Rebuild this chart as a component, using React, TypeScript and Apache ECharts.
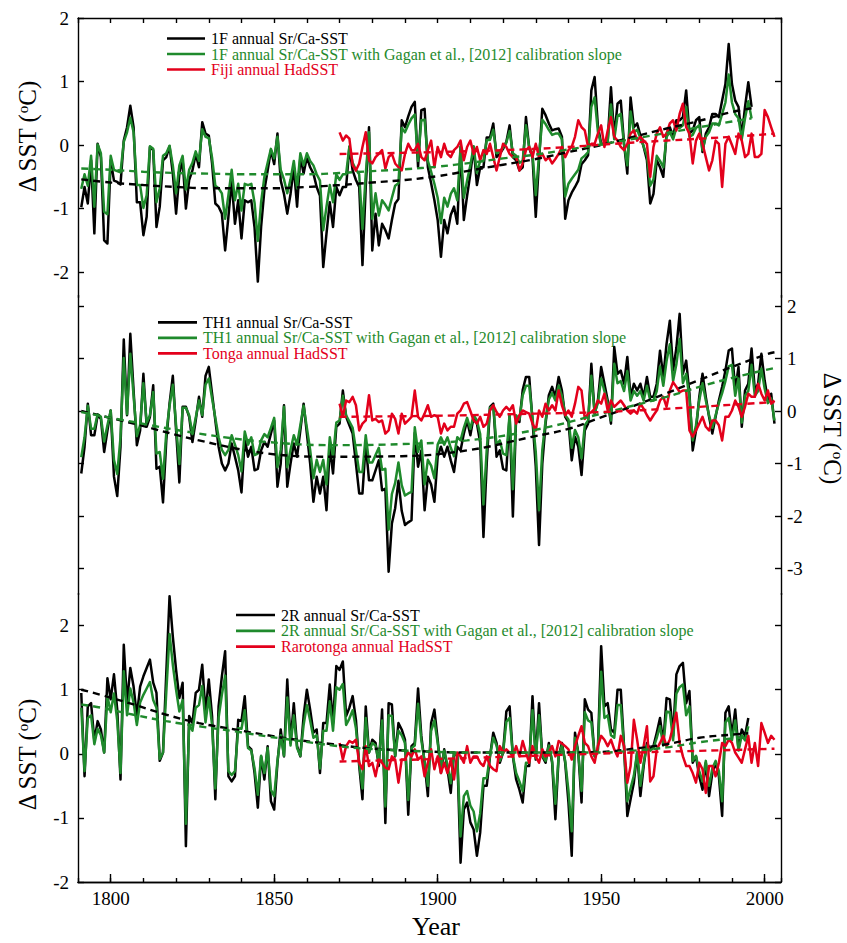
import React, { useEffect, useRef } from 'react';
import * as echarts from 'echarts';

const FONT = 'Liberation Serif';
const C_BLACK = '#000000';
const C_GREEN = '#1f8a2c';
const C_RED = '#e3001b';

// ---------- Panel 1 : 1F coral (Fiji) ----------
const f1Start = 1791;
const f1SrCa = [
  -0.98, -0.66, -0.92, -0.24, -1.39, 0.02, -0.19, -1.50, -1.55, -0.24,
  -0.56, -0.58, -0.62, 0.07, 0.28, 0.62, 0.28, -0.90, -0.90, -1.42,
  -1.13, -0.03, -0.08, -1.29, -0.97, -0.24, -0.19, -0.02, -0.45, -1.08,
  -0.45, -0.24, -1.00, -0.55, -0.40, -0.14, -0.35, 0.36, 0.18, 0.15,
  -0.29, -0.92, -0.97, -1.08, -1.66, -1.13, -0.56, -1.24, -0.87, -1.47,
  -0.87, -0.90, -0.87, -1.30, -2.15, -1.29, -0.71, -0.40, -0.08, -0.30,
  0.18, -0.56, -0.77, -1.08, -0.77, -0.35, -0.97, -0.19, -0.45, -0.19,
  -0.35, -0.45, -0.66, -0.80, -1.92, -1.39, -0.90, -1.29, -0.66, -0.79,
  -0.66, -0.66, -0.03, -0.40, -0.55, -0.66, -1.89, -0.66, 0.28, -1.66,
  -1.08, -1.58, -1.24, -1.34, -1.47, -1.18, -0.92, -0.85, 0.39, 0.28,
  0.45, 0.60, 0.68, -0.35, 0.55, 0.57, -0.35, -0.60, -0.87, -1.18,
  -1.76, -1.18, -1.39, -1.10, -0.97, -1.24, -0.03, -1.18, -0.80, -0.45,
  -0.03, -0.63, -0.35, -0.35, 0.12, 0.12, 0.34, -0.19, -0.14, -0.06,
  0.05, 0.31, -0.19, -0.24, -0.40, -0.35, 0.44, -0.05, -0.19, -1.13,
  -0.24, 0.57, 0.47, 0.34, 0.23, 0.25, 0.26, 0.13, -1.16, -0.87,
  -0.75, -0.66, -0.56, -0.30, -0.24, -0.16, 0.86, 1.07, 0.30, 0.02,
  0.02, 0.07, 0.91, 0.13, 0.65, 0.70, 0.02, -0.45, 0.75, 0.28,
  0.34, 0.15, -0.03, -0.24, -0.92, -0.77, -0.24, -0.35, -0.50, 0.18,
  0.28, 0.13, 0.39, 0.39, 0.44, 0.86, 0.18, 0.23, 0.39, 0.44,
  -0.11, 0.18, 0.28, 0.49, 0.49, 0.44, 0.70, 0.96, 1.59, 0.96,
  0.70, 0.60, 0.13, 0.60, 0.99, 0.60,
];
const f1Gagan = [
  -0.69, -0.46, -0.64, -0.17, -0.97, 0.01, -0.13, -1.05, -1.09, -0.17,
  -0.39, -0.41, -0.43, 0.05, 0.20, 0.43, 0.20, -0.63, -0.63, -0.99,
  -0.79, -0.02, -0.06, -0.90, -0.68, -0.17, -0.13, -0.01, -0.32, -0.76,
  -0.32, -0.17, -0.70, -0.39, -0.28, -0.10, -0.25, 0.25, 0.13, 0.11,
  -0.20, -0.64, -0.68, -0.76, -1.16, -0.79, -0.39, -0.87, -0.61, -1.03,
  -0.61, -0.63, -0.61, -0.91, -1.51, -0.90, -0.50, -0.28, -0.06, -0.21,
  0.13, -0.39, -0.54, -0.76, -0.54, -0.25, -0.68, -0.13, -0.32, -0.13,
  -0.25, -0.32, -0.46, -0.56, -1.34, -0.97, -0.63, -0.90, -0.46, -0.55,
  -0.46, -0.46, -0.02, -0.28, -0.39, -0.46, -1.32, -0.46, 0.20, -1.16,
  -0.76, -1.11, -0.87, -0.94, -1.03, -0.83, -0.64, -0.60, 0.27, 0.20,
  0.32, 0.42, 0.48, -0.25, 0.39, 0.40, -0.25, -0.42, -0.61, -0.83,
  -1.23, -0.83, -0.97, -0.77, -0.68, -0.87, -0.02, -0.83, -0.56, -0.32,
  -0.02, -0.44, -0.25, -0.25, 0.08, 0.08, 0.24, -0.13, -0.10, -0.04,
  0.04, 0.22, -0.13, -0.17, -0.28, -0.25, 0.31, -0.04, -0.13, -0.79,
  -0.17, 0.40, 0.33, 0.24, 0.16, 0.18, 0.18, 0.09, -0.81, -0.61,
  -0.53, -0.46, -0.39, -0.21, -0.17, -0.11, 0.60, 0.75, 0.21, 0.01,
  0.01, 0.05, 0.64, 0.09, 0.46, 0.49, 0.01, -0.32, 0.53, 0.20,
  0.24, 0.11, -0.02, -0.17, -0.64, -0.54, -0.17, -0.25, -0.35, 0.13,
  0.20, 0.09, 0.27, 0.27, 0.31, 0.60, 0.13, 0.16, 0.27, 0.31,
  -0.08, 0.13, 0.20, 0.34, 0.34, 0.31, 0.49, 0.67, 1.11, 0.67,
  0.49, 0.42, 0.09, 0.42, 0.69, 0.42,
];
const hadStart = 1870;
const fijiHad = [
  0.20, 0.07, 0.15, 0.10, -0.32, -0.40, -0.29, -0.03, 0.20, -0.24,
  -0.29, -0.19, -0.14, -0.08, -0.37, -0.19, -0.14, -0.29, -0.35, -0.40,
  -0.14, 0.02, -0.08, -0.08, 0.02, -0.19, -0.24, -0.08, 0.07, -0.35,
  -0.03, -0.19, 0.02, -0.14, -0.19, -0.08, -0.03, 0.07, -0.24, -0.03,
  0.07, -0.14, -0.03, -0.24, -0.08, -0.14, 0.02, -0.19, -0.40, -0.19,
  0.02, -0.03, -0.14, -0.19, -0.19, -0.40, -0.29, -0.08, -0.03, -0.19,
  0.02, -0.19, -0.14, -0.24, -0.19, -0.29, -0.22, -0.14, -0.03, -0.19,
  -0.08, -0.03, 0.13, 0.39, 0.28, 0.23, -0.03, 0.02, 0.02, 0.18,
  0.31, -0.03, 0.23, 0.44, 0.13, 0.07, -0.03, -0.08, 0.02, 0.18,
  0.23, 0.07, 0.13, 0.07, 0.02, -0.50, -0.03, 0.18, 0.28, 0.13,
  0.18, 0.34, 0.39, 0.23, 0.49, 0.65, 0.28, 0.18, -0.29, 0.07,
  0.18, 0.02, -0.19, -0.40, -0.24, 0.07, 0.02, -0.66, 0.02, 0.13,
  0.00, -0.14, 0.18, 0.07, -0.19, -0.14, 0.18, -0.19, -0.19, -0.14,
  0.55, 0.44, 0.28, 0.13,
];
const f1TrendYears = [1791, 1800, 1810, 1820, 1830, 1840, 1850, 1860, 1870, 1880, 1890, 1900, 1910, 1920, 1930, 1940, 1950, 1960, 1970, 1980, 1990, 1996];
const f1TrendSrCa = [-0.54, -0.59, -0.63, -0.66, -0.68, -0.68, -0.68, -0.66, -0.63, -0.59, -0.55, -0.49, -0.40, -0.31, -0.22, -0.11, 0.00, 0.13, 0.26, 0.38, 0.52, 0.58];
const f1TrendGagan = [-0.37, -0.39, -0.42, -0.44, -0.45, -0.46, -0.46, -0.46, -0.44, -0.41, -0.38, -0.34, -0.28, -0.21, -0.15, -0.07, 0.01, 0.10, 0.19, 0.28, 0.37, 0.42];
const hadTrendYears = [1870, 1900, 1930, 1960, 1990, 2003];
const fijiTrend = [-0.14, -0.11, -0.06, 0.04, 0.13, 0.18];

// ---------- Panel 2 : TH1 coral (Tonga) ----------
const th1Start = 1791;
const th1SrCa = [
  -1.19, -0.68, 0.14, -0.46, -0.46, -0.08, -0.15, -0.78, -0.37, 0.01,
  -1.25, -1.62, -0.68, 1.36, -0.08, 1.47, 0.39, -0.65, -0.37, 0.71,
  -0.30, -0.11, 0.49, -1.10, -1.06, -1.74, -0.56, 0.14, 0.67, -0.37,
  -1.36, 0.08, 0.08, -0.11, -0.59, -0.18, 0.27, -0.11, 0.67, 0.84,
  0.33, -0.18, -0.68, -1.00, -1.13, -1.00, -0.62, -0.87, -1.13, -1.55,
  -0.53, -0.87, -0.68, -1.13, -1.10, -0.75, -0.59, -0.68, -0.43, -0.18,
  -1.44, -1.00, 0.11, -1.44, -1.00, -0.62, -0.87, -0.37, 0.14, -0.43,
  -1.00, -1.73, -1.25, -1.57, -1.25, -1.89, -0.68, -1.19, -0.30, -0.24,
  0.39, -0.11, -0.27, -0.43, -1.00, -1.57, -1.57, -0.62, -1.32, -1.32,
  -1.13, -0.94, -1.51, -1.48, -3.06, -2.14, -1.85, -1.33, -1.90, -2.17,
  -2.12, -2.08, -0.42, -1.06, -0.75, -1.89, -1.25, -1.40, -1.73, -0.87,
  -0.68, -0.87, -0.68, -0.94, -1.16, -0.68, -0.75, -0.43, -0.18, -0.46,
  -0.11, -0.24, -0.60, -2.40, -1.00, 0.08, 0.14, -0.87, -0.75, -1.10,
  -1.13, -0.08, -2.01, -0.11, -0.21, 0.40, 0.65, 0.65, -0.18, -1.06,
  -2.55, -1.00, -0.24, 0.30, 0.46, 0.27, 0.65, 0.39, -0.11, -0.21,
  -0.94, -0.49, -0.68, -1.22, -0.37, -0.24, 0.90, -0.05, 0.20, 0.84,
  0.52, 0.20, -0.24, 1.22, 0.71, 0.77, 0.52, 1.03, 0.27, 0.52,
  0.39, 0.52, 0.27, 0.65, 0.27, 0.27, 0.52, 1.15, 0.65, 1.28,
  1.72, 0.77, 1.20, 1.85, 0.71, 0.96, 0.33, -0.75, -0.37, 0.27,
  0.71, 0.27, -0.11, -0.43, -0.11, 0.20, 0.46, 0.77, 1.15, 1.19,
  0.39, 0.84, -0.30, 0.39, 0.52, 1.19, 0.39, 0.52, 1.09, 0.58,
  0.20, 0.33, -0.24,
];
const th1Gagan = [
  -0.88, -0.50, 0.10, -0.34, -0.34, -0.06, -0.11, -0.58, -0.27, 0.01,
  -0.93, -1.20, -0.50, 1.01, -0.06, 1.09, 0.29, -0.48, -0.27, 0.53,
  -0.22, -0.08, 0.36, -0.81, -0.78, -1.29, -0.41, 0.10, 0.50, -0.27,
  -1.01, 0.06, 0.06, -0.08, -0.44, -0.13, 0.20, -0.08, 0.50, 0.62,
  0.24, -0.13, -0.50, -0.74, -0.84, -0.74, -0.46, -0.64, -0.84, -1.15,
  -0.39, -0.64, -0.50, -0.84, -0.81, -0.56, -0.44, -0.50, -0.32, -0.13,
  -1.07, -0.74, 0.08, -1.07, -0.74, -0.46, -0.64, -0.27, 0.10, -0.32,
  -0.74, -1.28, -0.93, -1.16, -0.93, -1.40, -0.50, -0.88, -0.22, -0.18,
  0.29, -0.08, -0.20, -0.32, -0.74, -1.16, -1.16, -0.46, -0.98, -0.98,
  -0.84, -0.70, -1.12, -1.10, -2.26, -1.58, -1.37, -0.98, -1.41, -1.61,
  -1.57, -1.54, -0.31, -0.78, -0.56, -1.40, -0.93, -1.04, -1.28, -0.64,
  -0.50, -0.64, -0.50, -0.70, -0.86, -0.50, -0.56, -0.32, -0.13, -0.34,
  -0.08, -0.18, -0.44, -1.78, -0.74, 0.06, 0.10, -0.64, -0.56, -0.81,
  -0.84, -0.06, -1.49, -0.08, -0.16, 0.30, 0.48, 0.48, -0.13, -0.78,
  -1.89, -0.74, -0.18, 0.22, 0.34, 0.20, 0.48, 0.29, -0.08, -0.16,
  -0.70, -0.36, -0.50, -0.90, -0.27, -0.18, 0.67, -0.04, 0.15, 0.62,
  0.38, 0.15, -0.18, 0.90, 0.53, 0.57, 0.38, 0.76, 0.20, 0.38,
  0.29, 0.38, 0.20, 0.48, 0.20, 0.20, 0.38, 0.85, 0.48, 0.95,
  1.27, 0.57, 0.89, 1.37, 0.53, 0.71, 0.24, -0.56, -0.27, 0.20,
  0.53, 0.20, -0.08, -0.32, -0.08, 0.15, 0.34, 0.57, 0.85, 0.88,
  0.29, 0.62, -0.22, 0.29, 0.38, 0.88, 0.29, 0.38, 0.81, 0.43,
  0.15, 0.24, -0.18,
];
const tongaHad = [
  0.14, -0.11, 0.20, 0.17, 0.27, 0.11, -0.37, -0.24, -0.18, 0.30,
  -0.18, -0.15, -0.21, -0.18, -0.43, -0.37, -0.05, -0.15, -0.43, -0.05,
  -0.24, -0.18, -0.11, 0.39, -0.11, -0.18, -0.05, 0.11, -0.11, -0.08,
  -0.11, -0.43, -0.24, -0.37, -0.30, -0.30, -0.05, 0.01, 0.14, 0.17,
  0.00, -0.18, -0.24, -0.11, -0.30, -0.24, 0.01, 0.11, -0.02, -0.11,
  0.01, 0.08, 0.01, 0.11, -0.24, -0.08, 0.01, -0.02, -0.05, -0.24,
  -0.37, 0.01, -0.11, 0.14, 0.01, 0.11, 0.01, 0.39, 0.11, -0.08,
  0.01, -0.11, 0.14, 0.46, 0.39, -0.15, -0.05, -0.02, 0.04, 0.20,
  0.14, 0.33, 0.01, 0.20, 0.08, 0.14, 0.20, 0.11, 0.01, -0.05,
  0.01, -0.05, 0.14, 0.04, -0.08, -0.18, -0.08, 0.01, 0.20, 0.27,
  0.08, 0.39, 0.55, 0.46, 0.36, 0.39, 0.39, -0.37, -0.49, -0.37,
  -0.24, -0.11, -0.30, -0.37, -0.18, -0.18, -0.27, -0.56, -0.11, -0.11,
  0.01, 0.20, 0.08, -0.11, 0.08, 0.33, 0.27, 0.27, 0.52, 0.33,
  0.20, 0.39, 0.14, 0.20,
];
const th1TrendYears = [1791, 1807, 1827, 1848, 1868, 1889, 1909, 1929, 1940, 1950, 1960, 1970, 1980, 1990, 2001, 2003];
const th1TrendSrCa = [0.00, -0.24, -0.56, -0.81, -0.87, -0.86, -0.75, -0.49, -0.34, -0.12, 0.10, 0.34, 0.59, 0.84, 1.09, 1.12];
const th1TrendGaganYears = [1791, 1807, 1827, 1848, 1868, 1889, 1909, 1929, 1950, 1970, 1980, 1990, 2003];
const th1TrendGagan = [-0.02, -0.21, -0.43, -0.59, -0.65, -0.63, -0.56, -0.37, -0.05, 0.27, 0.46, 0.63, 0.82];
const tongaTrendYears = [1870, 1900, 1930, 1950, 1975, 1990, 2003];
const tongaTrend = [-0.11, -0.09, -0.05, -0.02, 0.06, 0.12, 0.17];

// ---------- Panel 3 : 2R coral (Rarotonga) ----------
const r2Start = 1791;
const r2SrCa = [
  0.95, -0.35, 0.74, 0.79, 0.20, 0.51, 0.38, 0.02, 1.18, 0.85,
  1.24, 0.69, -0.40, 1.70, 0.79, 1.34, 1.05, 0.59, 1.05, 1.21,
  1.34, 1.47, 1.11, 0.95, -0.11, 0.02, 1.26, 2.46, 1.83, 1.31,
  0.87, 1.11, -1.44, 0.59, 0.48, 0.95, 1.00, 1.39, 0.64, 1.16,
  0.59, -0.71, 0.74, 1.21, 1.60, -0.35, -0.43, -0.35, 0.53, 0.51,
  0.90, 0.12, 0.07, -0.30, -0.84, -0.04, -0.40, 0.12, -0.74, -0.87,
  -0.14, 0.38, -0.04, 1.16, 0.17, 0.79, 0.12, -0.04, 0.59, 1.00,
  0.69, 0.33, 0.38, -0.30, 0.48, 0.48, 1.08, 0.48, 1.37, 1.31,
  1.44, 0.59, 0.72, 0.90, 0.53, -0.19, -0.71, 0.74, 0.02, 0.22,
  0.17, -0.19, 0.69, -1.08, 0.79, 0.77, -0.04, 0.48, 0.38, 0.22,
  -0.95, 0.12, 0.17, 1.02, 0.28, -0.14, -0.66, 0.48, 0.69, 0.22,
  -0.30, 0.07, -0.24, -0.61, 0.02, -0.04, -1.70, -0.87, -0.76, -1.07,
  -1.18, -1.59, -1.23, -0.50, -0.50, -0.04, 0.33, 0.17, -0.14, 0.02,
  0.66, 0.74, -0.04, -0.40, -0.56, -0.76, -0.19, -0.19, 0.90, -0.09,
  0.79, -0.04, -0.14, 0.17, -0.14, -1.02, -0.04, 0.17, -0.14, -0.76,
  -1.59, 0.33, 0.02, -0.76, 0.85, 0.69, 0.64, -0.04, 0.07, 1.68,
  0.74, 0.79, 0.38, 0.33, 1.00, 1.00, 0.12, -0.97, -0.71, -0.45,
  0.02, -0.66, -0.19, 0.17, 0.07, 0.12, 0.33, 0.56, 0.17, 0.87,
  0.85, 0.28, 1.24, 1.37, 1.42, 0.79, 0.98, -0.14, -0.04, -0.35,
  -0.56, -0.14, -0.66, -0.30, -0.14, -0.35, -0.97, 0.64, 0.74, 0.28,
  0.69, 0.07, 0.38, 0.28, 0.56,
];
const r2Gagan = [
  0.72, -0.27, 0.56, 0.60, 0.15, 0.39, 0.29, 0.02, 0.90, 0.65,
  0.94, 0.52, -0.30, 1.29, 0.60, 1.02, 0.80, 0.45, 0.80, 0.92,
  1.02, 1.12, 0.84, 0.72, -0.08, 0.02, 0.96, 1.87, 1.39, 1.00,
  0.66, 0.84, -1.09, 0.45, 0.36, 0.72, 0.76, 1.06, 0.49, 0.88,
  0.45, -0.54, 0.56, 0.92, 1.22, -0.27, -0.33, -0.27, 0.40, 0.39,
  0.68, 0.09, 0.05, -0.23, -0.64, -0.03, -0.30, 0.09, -0.56, -0.66,
  -0.11, 0.29, -0.03, 0.88, 0.13, 0.60, 0.09, -0.03, 0.45, 0.76,
  0.52, 0.25, 0.29, -0.23, 0.36, 0.36, 0.82, 0.36, 1.04, 1.00,
  1.09, 0.45, 0.55, 0.68, 0.40, -0.14, -0.54, 0.56, 0.02, 0.17,
  0.13, -0.14, 0.52, -0.82, 0.60, 0.59, -0.03, 0.36, 0.29, 0.17,
  -0.72, 0.09, 0.13, 0.78, 0.21, -0.11, -0.50, 0.36, 0.52, 0.17,
  -0.23, 0.05, -0.18, -0.46, 0.02, -0.03, -1.29, -0.66, -0.58, -0.81,
  -0.90, -1.21, -0.93, -0.38, -0.38, -0.03, 0.25, 0.13, -0.11, 0.02,
  0.50, 0.56, -0.03, -0.30, -0.43, -0.58, -0.14, -0.14, 0.68, -0.07,
  0.60, -0.03, -0.11, 0.13, -0.11, -0.78, -0.03, 0.13, -0.11, -0.58,
  -1.21, 0.25, 0.02, -0.58, 0.65, 0.52, 0.49, -0.03, 0.05, 1.28,
  0.56, 0.60, 0.29, 0.25, 0.76, 0.76, 0.09, -0.74, -0.54, -0.34,
  0.02, -0.50, -0.14, 0.13, 0.05, 0.09, 0.25, 0.43, 0.13, 0.66,
  0.65, 0.21, 0.94, 1.04, 1.08, 0.60, 0.74, -0.11, -0.03, -0.27,
  -0.43, -0.11, -0.50, -0.23, -0.11, -0.27, -0.74, 0.49, 0.56, 0.21,
  0.52, 0.05, 0.29, 0.21, 0.43,
];
const rarotongaHad = [
  0.17, -0.09, 0.12, 0.20, 0.17, 0.22, -0.14, -0.24, 0.12, -0.19,
  -0.14, -0.35, -0.09, -0.14, -0.22, -0.24, -0.04, -0.09, -0.45, -0.09,
  -0.09, 0.02, -0.04, 0.07, -0.09, -0.04, -0.35, -0.14, 0.07, -0.24,
  -0.04, -0.30, -0.14, -0.30, -0.09, -0.40, 0.02, -0.04, -0.14, 0.12,
  -0.14, -0.04, -0.04, -0.14, -0.19, -0.04, -0.19, -0.24, -0.27, 0.12,
  0.02, 0.07, 0.02, -0.04, 0.12, -0.04, 0.20, 0.02, -0.14, 0.12,
  -0.04, -0.14, 0.07, -0.04, 0.02, 0.12, -0.04, 0.20, 0.16, 0.12,
  0.07, -0.09, 0.12, 0.28, 0.43, 0.17, 0.12, -0.04, -0.14, 0.12,
  0.28, 0.22, 0.12, 0.22, 0.07, -0.04, 0.28, 0.12, -0.45, -0.19,
  0.53, 0.22, -0.14, 0.12, 0.43, -0.43, -0.35, 0.07, 0.17, 0.28,
  0.12, 0.22, 0.43, 0.64, 0.17, -0.04, -0.19, -0.19, -0.30, -0.45,
  -0.14, -0.24, -0.61, -0.19, -0.19, -0.35, -0.14, 0.17, 0.12, 0.22,
  0.17, 0.02, -0.06, -0.14, 0.07, 0.28, -0.14, 0.17, -0.19, 0.48,
  0.33, 0.17, 0.28, 0.22,
];
const r2TrendYears = [1791, 1797, 1807, 1817, 1827, 1838, 1848, 1858, 1868, 1878, 1895, 1910, 1930, 1950, 1960, 1970, 1980, 1990, 1995];
const r2TrendSrCa = [1.00, 0.92, 0.77, 0.61, 0.48, 0.38, 0.29, 0.21, 0.15, 0.09, 0.04, 0.02, 0.02, 0.03, 0.08, 0.15, 0.25, 0.30, 0.32];
const r2TrendGagan = [0.77, 0.72, 0.61, 0.51, 0.43, 0.35, 0.27, 0.20, 0.13, 0.08, 0.04, 0.02, 0.02, 0.02, 0.05, 0.10, 0.18, 0.24, 0.26];
const rarotongaTrend = [-0.12, -0.08, -0.03, 0.02, 0.06, 0.08];

// ---------- labels ----------
const yearTicks = [1800, 1850, 1900, 1950, 2000];
const p1Ticks = [-2, -1, 0, 1, 2];
const p2Ticks = [-3, -2, -1, 0, 1, 2];
const p3Ticks = [-2, -1, 0, 1, 2];
const legend1 = ['1F annual Sr/Ca-SST', '1F annual Sr/Ca-SST with Gagan et al., [2012] calibration slope', 'Fiji annual HadSST'];
const legend2 = ['TH1 annual Sr/Ca-SST', 'TH1 annual Sr/Ca-SST with Gagan et al., [2012] calibration slope', 'Tonga annual HadSST'];
const legend3 = ['2R annual Sr/Ca-SST', '2R annual Sr/Ca-SST with Gagan et al., [2012] calibration slope', 'Rarotonga annual HadSST'];

const annual = (start: number, vals: number[]) => vals.map((v, i) => [start + i, v]);
const zip = (xs: number[], ys: number[]) => xs.map((x, i) => [x, ys[i]]);

export default function App() {
  const ref = useRef<HTMLDivElement>(null);
  useEffect(() => {
    if (!ref.current) return;
    const chart = echarts.init(ref.current, null, { renderer: 'svg' });

    const lineStyle = { color: '#000', width: 1.4 };
    const axisLine = { show: true, onZero: false, lineStyle };
    const labelStyle = { color: '#000', fontSize: 19, fontFamily: FONT, formatter: (v: number) => String(v) };
    const X_MIN = 1790, X_MAX = 2005;

    const hiddenX = (gridIndex: number) => ({
      type: 'value', gridIndex, min: X_MIN, max: X_MAX, position: 'bottom',
      axisLine: { show: false, onZero: false }, axisTick: { show: false }, axisLabel: { show: false }, splitLine: { show: false },
    });

    const yAx = (gridIndex: number, position: string, min: number, max: number, ticks: number[], labels: boolean) => ({
      type: 'value', gridIndex, position, min, max,
      axisLine,
      splitLine: { show: false },
      axisTick: { show: true, inside: true, length: 6, customValues: ticks, lineStyle },
      axisLabel: labels
        ? { show: true, customValues: ticks, margin: position === 'left' ? 9 : 6, ...labelStyle }
        : { show: false },
    });

    const solid = (name: string, data: any, color: string, xi: number, yi: number, z: number) => ({
      name, type: 'line', data, xAxisIndex: xi, yAxisIndex: yi, showSymbol: false, symbol: 'none', z,
      lineStyle: { color, width: 2.5, join: 'round' }, itemStyle: { color }, clip: false, silent: true,
    });
    const dashed = (name: string, data: any, color: string, xi: number, yi: number) => ({
      name, type: 'line', data, xAxisIndex: xi, yAxisIndex: yi, showSymbol: false, symbol: 'none', z: 6,
      smooth: 0.4,
      lineStyle: { color, width: 2.4, type: [7, 5] }, itemStyle: { color }, clip: false, silent: true,
    });

    const legendBlock = (x0: number, x1: number, ys: number[], texts: string[]) => {
      const colors = [C_BLACK, C_GREEN, C_RED];
      const els: any[] = [];
      ys.forEach((y, i) => {
        els.push({ type: 'line', shape: { x1: x0, y1: y, x2: x1, y2: y }, style: { stroke: colors[i], lineWidth: 2.7 } });
        els.push({ type: 'text', x: x1 + 6, y, style: { text: texts[i], fill: colors[i], fontSize: 16, fontFamily: FONT, verticalAlign: 'middle', align: 'left' } });
      });
      return els;
    };

    const title = (x: number, y: number, rotation: number) => ({
      type: 'text', x, y, rotation,
      style: {
        text: '{a|\u0394 SST (}{b|o}{a|C)}',
        fontFamily: FONT, fontSize: 25, fill: '#000',
        align: 'center', verticalAlign: 'middle',
        rich: {
          a: { fontSize: 25, fontFamily: FONT, fill: '#000' },
          b: { fontSize: 15, fontFamily: FONT, fill: '#000', verticalAlign: 'top' },
        },
      },
    });

    const option: any = {
      animation: false,
      backgroundColor: '#ffffff',
      textStyle: { fontFamily: FONT },
      grid: [
        { left: 78, right: 66, top: 18, height: 279.5 },
        { left: 78, right: 66, top: 295.5, height: 299.3 },
        { left: 78, right: 66, top: 593.6, height: 288.4 },
      ],
      xAxis: [
        {
          type: 'value', gridIndex: 0, position: 'top', min: X_MIN, max: X_MAX, interval: 10,
          axisLine, splitLine: { show: false },
          axisTick: { show: true, inside: true, length: 5, lineStyle },
          axisLabel: { show: false },
        },
        hiddenX(1),
        {
          type: 'value', gridIndex: 2, position: 'bottom', min: X_MIN, max: X_MAX,
          axisLine, splitLine: { show: false },
          axisTick: { show: true, inside: true, length: 8, customValues: yearTicks, lineStyle },
          axisLabel: { show: true, customValues: yearTicks, margin: 7, ...labelStyle },
        },
        {
          type: 'value', gridIndex: 2, position: 'bottom', offset: 0, min: X_MIN, max: X_MAX, interval: 10,
          axisLine, splitLine: { show: false },
          axisTick: { show: true, inside: true, length: 4, lineStyle },
          axisLabel: { show: false },
        },
      ],
      yAxis: [
        yAx(0, 'left', -2.4, 2, p1Ticks, true),
        yAx(0, 'right', -2.4, 2, p1Ticks, false),
        yAx(1, 'left', -3.5, 2.2, p2Ticks, false),
        yAx(1, 'right', -3.5, 2.2, p2Ticks, true),
        yAx(2, 'left', -2, 2.5, p3Ticks, true),
        yAx(2, 'right', -2, 2.5, p3Ticks, false),
      ],
      series: [
        solid(legend1[0], annual(f1Start, f1SrCa), C_BLACK, 0, 0, 3),
        solid(legend1[1], annual(f1Start, f1Gagan), C_GREEN, 0, 0, 4),
        solid(legend1[2], annual(hadStart, fijiHad), C_RED, 0, 0, 5),
        dashed('1F trend', zip(f1TrendYears, f1TrendSrCa), C_BLACK, 0, 0),
        dashed('1F Gagan trend', zip(f1TrendYears, f1TrendGagan), C_GREEN, 0, 0),
        dashed('Fiji trend', zip(hadTrendYears, fijiTrend), C_RED, 0, 0),

        solid(legend2[0], annual(th1Start, th1SrCa), C_BLACK, 1, 3, 3),
        solid(legend2[1], annual(th1Start, th1Gagan), C_GREEN, 1, 3, 4),
        solid(legend2[2], annual(hadStart, tongaHad), C_RED, 1, 3, 5),
        dashed('TH1 trend', zip(th1TrendYears, th1TrendSrCa), C_BLACK, 1, 3),
        dashed('TH1 Gagan trend', zip(th1TrendGaganYears, th1TrendGagan), C_GREEN, 1, 3),
        dashed('Tonga trend', zip(tongaTrendYears, tongaTrend), C_RED, 1, 3),

        solid(legend3[0], annual(r2Start, r2SrCa), C_BLACK, 2, 4, 3),
        solid(legend3[1], annual(r2Start, r2Gagan), C_GREEN, 2, 4, 4),
        solid(legend3[2], annual(hadStart, rarotongaHad), C_RED, 2, 4, 5),
        dashed('2R trend', zip(r2TrendYears, r2TrendSrCa), C_BLACK, 2, 4),
        dashed('2R Gagan trend', zip(r2TrendYears, r2TrendGagan), C_GREEN, 2, 4),
        dashed('Rarotonga trend', zip(hadTrendYears, rarotongaTrend), C_RED, 2, 4),
      ],
      graphic: [
        ...legendBlock(167, 205, [38.5, 54, 69.5], legend1),
        ...legendBlock(158, 197, [322.3, 337.8, 353.3], legend2),
        ...legendBlock(236, 275, [615, 630.8, 646.6], legend3),
        title(27.5, 137, Math.PI / 2),
        title(832.5, 428, -Math.PI / 2),
        title(27.5, 755, Math.PI / 2),
        { type: 'text', x: 436, y: 926, style: { text: 'Year', fill: '#000', fontSize: 26, fontFamily: FONT, align: 'center', verticalAlign: 'middle' } },
      ],
    };
    chart.setOption(option);
    return () => chart.dispose();
  }, []);
  return <div ref={ref} style={{ position: 'absolute', left: 0, top: 0, width: 847, height: 943, background: '#fff' }} />;
}
